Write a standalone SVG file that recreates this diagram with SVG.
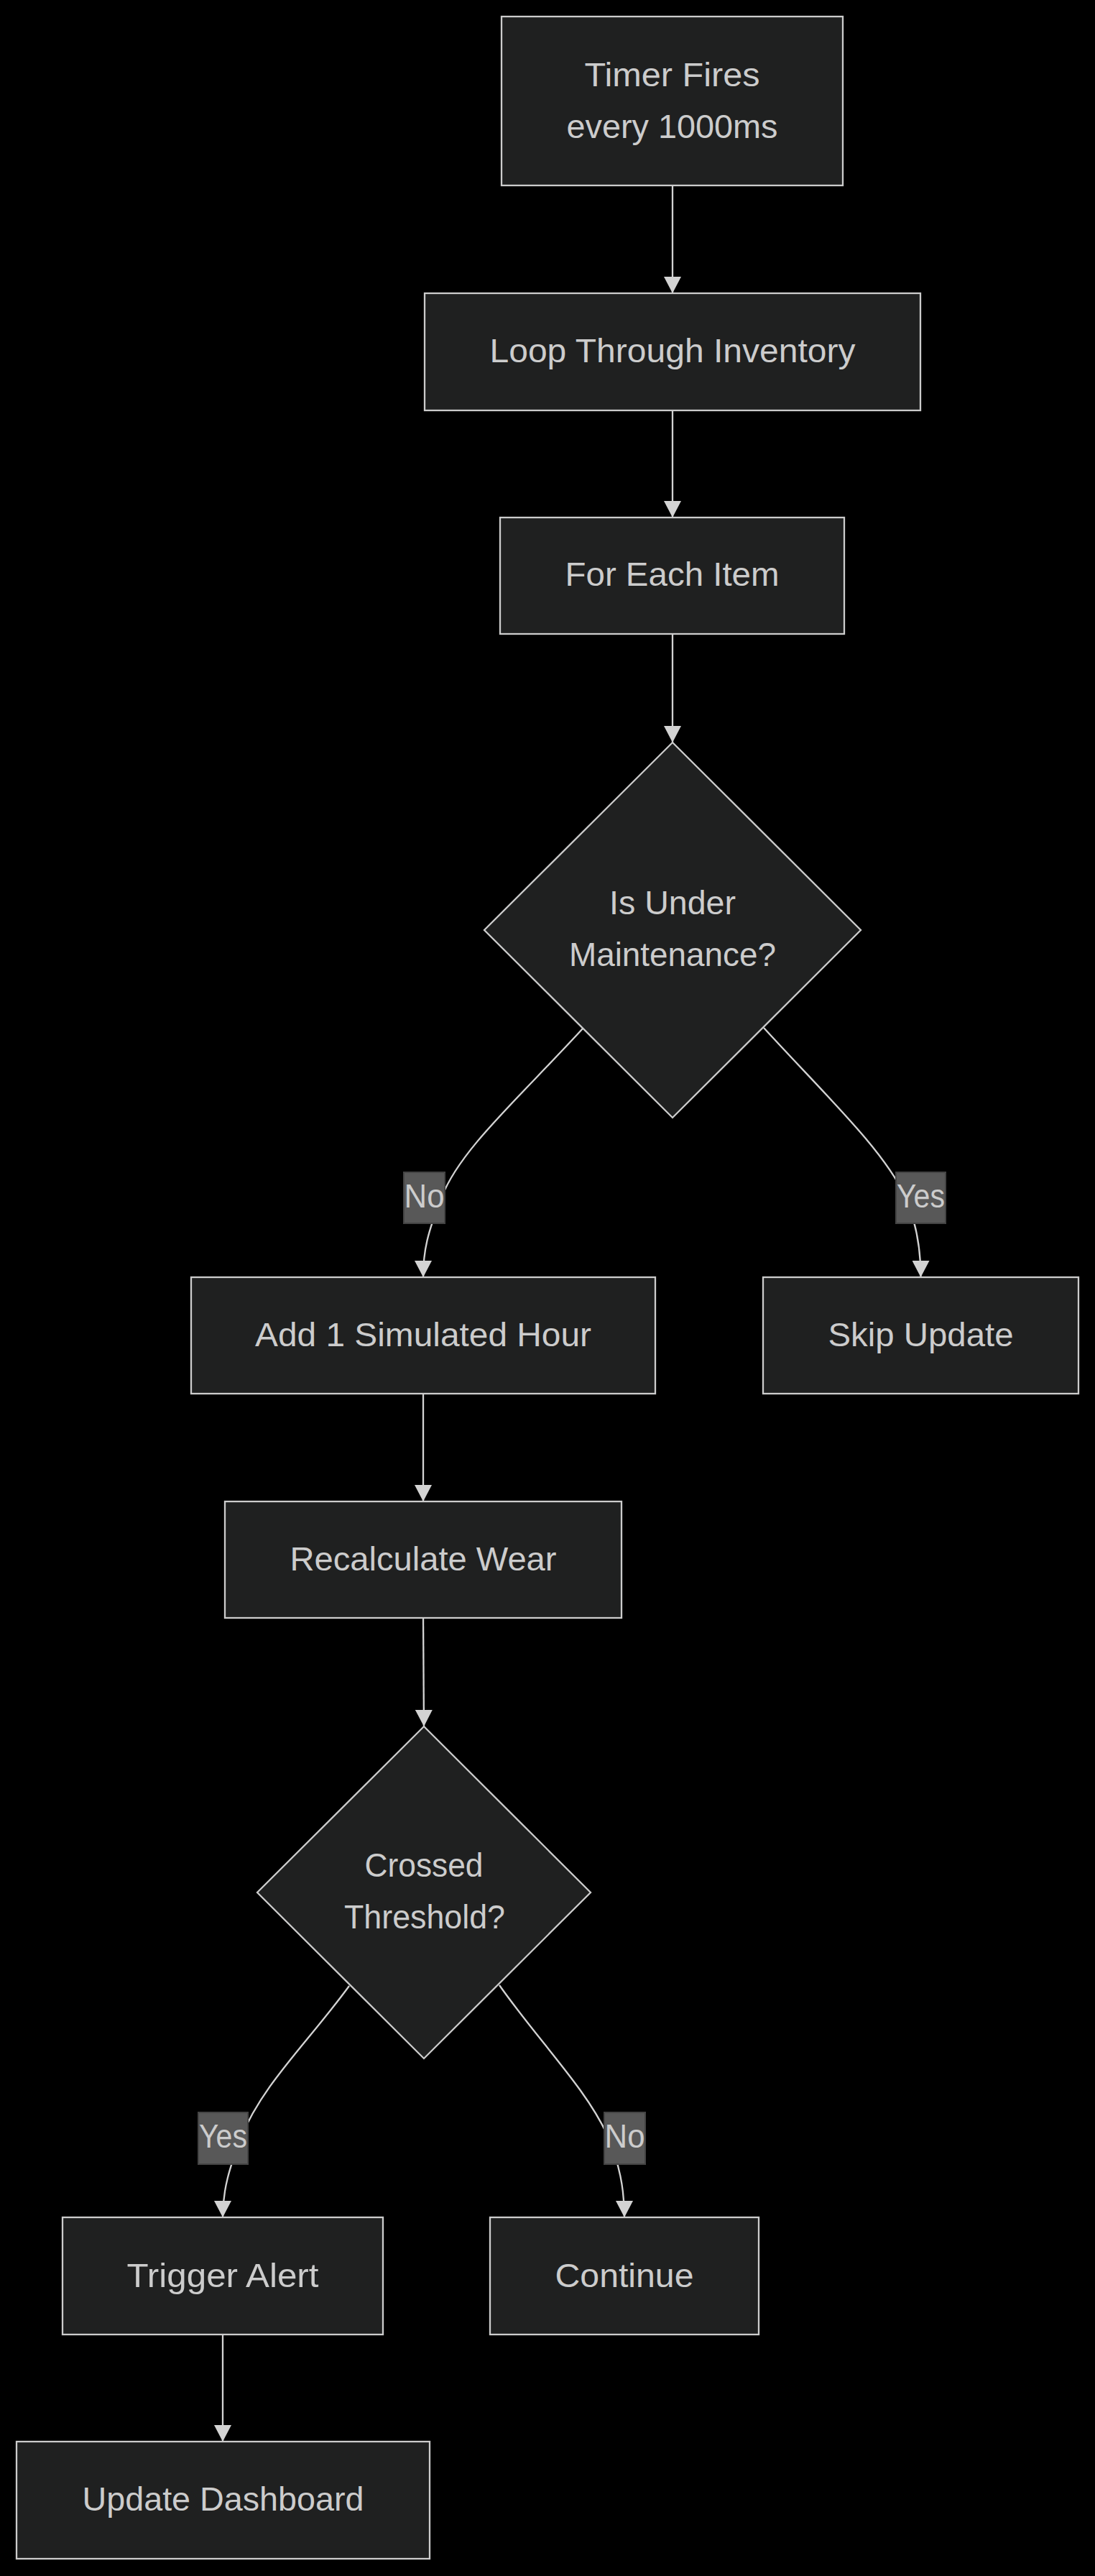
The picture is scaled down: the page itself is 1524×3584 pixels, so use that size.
<svg xmlns="http://www.w3.org/2000/svg" width="1524" height="3584" viewBox="0 0 1524 3584">
  <defs>
    <style>
      .node rect, .node polygon { fill: #1f2020; stroke: #cccccc; stroke-width: 2.3; }
      .node text, .elabel text { font-family: "Liberation Sans", Arial, sans-serif; font-size: 47px; fill: #cccccc; text-anchor: middle; }
      .edge { fill: none; stroke: #d3d3d3; stroke-width: 2.3; marker-end: url(#arrow); }
      .elabel rect { fill: #585858; stroke: #444444; stroke-width: 2; }
    </style>
    <marker id="arrow" viewBox="0 0 23 24" markerUnits="userSpaceOnUse" markerWidth="23" markerHeight="24" refX="23" refY="12" orient="auto">
      <path d="M0,0 L23,12 L0,24 z" fill="#d3d3d3"/>
    </marker>
  </defs>
  <rect x="0" y="0" width="1524" height="3584" fill="#000000"/>

  <g id="edges">
    <path class="edge" d="M936,258 L936,408"/>
    <path class="edge" d="M936,571 L936,720"/>
    <path class="edge" d="M936,882 L936,1033"/>
    <path class="edge" d="M812,1430 C720,1530 640,1600 615,1665 C595,1715 589,1740 589,1777"/>
    <path class="edge" d="M1063,1430 C1150,1525 1230,1600 1260,1665 C1275,1700 1281.5,1735 1281.5,1777"/>
    <path class="edge" d="M589,1939 L589,2089"/>
    <path class="edge" d="M589,2251 L590,2402"/>
    <path class="edge" d="M486,2763 C430,2840 365,2900 335,2975 C320,3015 310,3045 310,3085"/>
    <path class="edge" d="M695,2762 C750,2840 815,2905 845,2970 C862,3010 869,3045 869,3085"/>
    <path class="edge" d="M310,3248 L310,3397"/>
  </g>

  <g id="edge-labels">
    <g class="elabel" id="label-no-1">
      <rect x="562" y="1631" width="57" height="71"/>
      <text x="590.5" y="1680" textLength="56" lengthAdjust="spacingAndGlyphs">No</text>
    </g>
    <g class="elabel" id="label-yes-1">
      <rect x="1247" y="1631" width="69" height="71"/>
      <text x="1281.5" y="1680" textLength="67" lengthAdjust="spacingAndGlyphs">Yes</text>
    </g>
    <g class="elabel" id="label-yes-2">
      <rect x="276" y="2939" width="69" height="72"/>
      <text x="310.5" y="2988" textLength="67" lengthAdjust="spacingAndGlyphs">Yes</text>
    </g>
    <g class="elabel" id="label-no-2">
      <rect x="841" y="2939" width="57" height="72"/>
      <text x="869.5" y="2988" textLength="56" lengthAdjust="spacingAndGlyphs">No</text>
    </g>
  </g>

  <g class="node" id="timer">
    <rect x="698" y="23" width="475" height="235"/>
    <text x="935.5" y="120" textLength="244" lengthAdjust="spacingAndGlyphs">Timer Fires</text>
    <text x="935.5" y="192" textLength="294" lengthAdjust="spacingAndGlyphs">every 1000ms</text>
  </g>
  <g class="node" id="loop">
    <rect x="591" y="408" width="690" height="163"/>
    <text x="936" y="504" textLength="509" lengthAdjust="spacingAndGlyphs">Loop Through Inventory</text>
  </g>
  <g class="node" id="foreach">
    <rect x="696" y="720" width="479" height="162"/>
    <text x="935.5" y="815" textLength="298" lengthAdjust="spacingAndGlyphs">For Each Item</text>
  </g>
  <g class="node" id="maintenance">
    <polygon points="936,1033 1198,1294 936,1555 674,1294"/>
    <text x="936" y="1272" textLength="176" lengthAdjust="spacingAndGlyphs">Is Under</text>
    <text x="936" y="1344" textLength="288" lengthAdjust="spacingAndGlyphs">Maintenance?</text>
  </g>
  <g class="node" id="addhour">
    <rect x="266" y="1777" width="646" height="162"/>
    <text x="589" y="1873" textLength="468" lengthAdjust="spacingAndGlyphs">Add 1 Simulated Hour</text>
  </g>
  <g class="node" id="skip">
    <rect x="1062" y="1777" width="439" height="162"/>
    <text x="1281.5" y="1873" textLength="258" lengthAdjust="spacingAndGlyphs">Skip Update</text>
  </g>
  <g class="node" id="recalc">
    <rect x="313" y="2089" width="552" height="162"/>
    <text x="589" y="2185" textLength="371" lengthAdjust="spacingAndGlyphs">Recalculate Wear</text>
  </g>
  <g class="node" id="threshold">
    <polygon points="590,2402 822,2633 590,2864 358,2633"/>
    <text x="590" y="2611" textLength="165" lengthAdjust="spacingAndGlyphs">Crossed</text>
    <text x="591" y="2683" textLength="224" lengthAdjust="spacingAndGlyphs">Threshold?</text>
  </g>
  <g class="node" id="alert">
    <rect x="87" y="3085" width="446" height="163"/>
    <text x="310" y="3182" textLength="267" lengthAdjust="spacingAndGlyphs">Trigger Alert</text>
  </g>
  <g class="node" id="continue">
    <rect x="682" y="3085" width="374" height="163"/>
    <text x="869" y="3182" textLength="193" lengthAdjust="spacingAndGlyphs">Continue</text>
  </g>
  <g class="node" id="dashboard">
    <rect x="23" y="3397" width="575" height="163"/>
    <text x="310.5" y="3493" textLength="392" lengthAdjust="spacingAndGlyphs">Update Dashboard</text>
  </g>
</svg>
